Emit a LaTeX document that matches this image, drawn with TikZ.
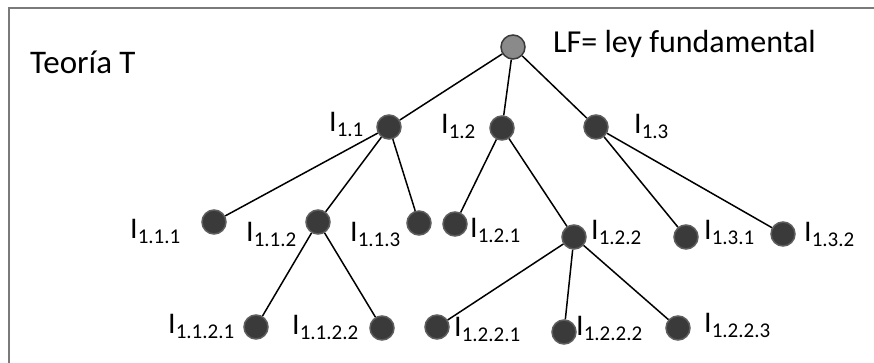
\documentclass[tikz,border=0pt]{standalone}
\usepackage{fontspec}
\setmainfont{Carlito}
\definecolor{framegray}{HTML}{7A7A7A}
\definecolor{nodefill}{HTML}{3A3A3A}
\definecolor{nodeedge}{HTML}{5E5E5E}
\definecolor{rootfill}{HTML}{8A8A8A}
\definecolor{rootedge}{HTML}{3A3A3A}
% label "I" with a lowered, smaller index
\newcommand{\Isub}[1]{I\raisebox{-5pt}{\fontsize{21}{21}\selectfont #1}}
\begin{document}
\begin{tikzpicture}[x=1pt,y=-1pt,
  leaf/.style={circle, draw=nodeedge, fill=nodefill, line width=1.5pt,
               minimum size=24pt, inner sep=0pt},
  rootnode/.style={leaf, fill=rootfill, draw=rootedge},
  lab/.style={anchor=base west, inner sep=0pt, font=\fontsize{30}{36}\selectfont},
  branch/.style={line width=1.5pt, black}]
\useasboundingbox (0,0) rectangle (874,363);
% outer frame (runs past the right and bottom edges)
\draw[framegray, line width=2pt] (9,8) rectangle (900,400);

\node[lab, font=\fontsize{33}{40}\selectfont] (title) at (30,74) {Teoría T};
\node[lab, font=\fontsize{32}{38}\selectfont] (legend) at (553,53) {LF= ley fundamental};

% tree nodes
\node[rootnode] (r) at (513,47) {};
\node[leaf] (a1) at (389,127) {};
\node[leaf] (a2) at (502,128) {};
\node[leaf] (a3) at (596,127) {};
\node[leaf] (b11) at (214,222) {};
\node[leaf] (b12) at (318,222) {};
\node[leaf] (b13) at (419,223) {};
\node[leaf] (b21) at (455,224) {};
\node[leaf] (b22) at (574,237) {};
\node[leaf] (b31) at (686,237) {};
\node[leaf] (b32) at (783,234) {};
\node[leaf] (c121) at (256,327) {};
\node[leaf] (c122) at (382,328) {};
\node[leaf] (c221) at (437,327) {};
\node[leaf] (c222) at (564,332) {};
\node[leaf] (c223) at (678,328) {};

% branches
\draw[branch] (r) -- (a1);
\draw[branch] (r) -- (a2);
\draw[branch] (r) -- (a3);
\draw[branch] (a1) -- (b11);
\draw[branch] (a1) -- (b12);
\draw[branch] (a1) -- (b13);
\draw[branch] (a2) -- (b21);
\draw[branch] (a2) -- (b22);
\draw[branch] (a3) -- (b31);
\draw[branch] (a3) -- (b32);
\draw[branch] (b12) -- (c121);
\draw[branch] (b12) -- (c122);
\draw[branch] (b22) -- (c221);
\draw[branch] (b22) -- (c222);
\draw[branch] (b22) -- (c223);

% labels
\node[lab] (la1) at (329,132) {\Isub{1.1}};
\node[lab] (la2) at (441,134) {\Isub{1.2}};
\node[lab] (la3) at (634,134) {\Isub{1.3}};
\node[lab] (lb11) at (130,238) {\Isub{1.1.1}};
\node[lab] (lb12) at (246,241) {\Isub{1.1.2}};
\node[lab] (lb13) at (350,241) {\Isub{1.1.3}};
\node[lab] (lb21) at (470,237) {\Isub{1.2.1}};
\node[lab] (lb22) at (591,240) {\Isub{1.2.2}};
\node[lab] (lb31) at (704,240) {\Isub{1.3.1}};
\node[lab] (lb32) at (804,241) {\Isub{1.3.2}};
\node[lab] (lc121) at (168,333) {\Isub{1.1.2.1}};
\node[lab] (lc122) at (292,334) {\Isub{1.1.2.2}};
\node[lab] (lc221) at (454,336) {\Isub{1.2.2.1}};
\node[lab] (lc222) at (576,335) {\Isub{1.2.2.2}};
\node[lab] (lc223) at (704,332) {\Isub{1.2.2.3}};
\end{tikzpicture}
\end{document}
